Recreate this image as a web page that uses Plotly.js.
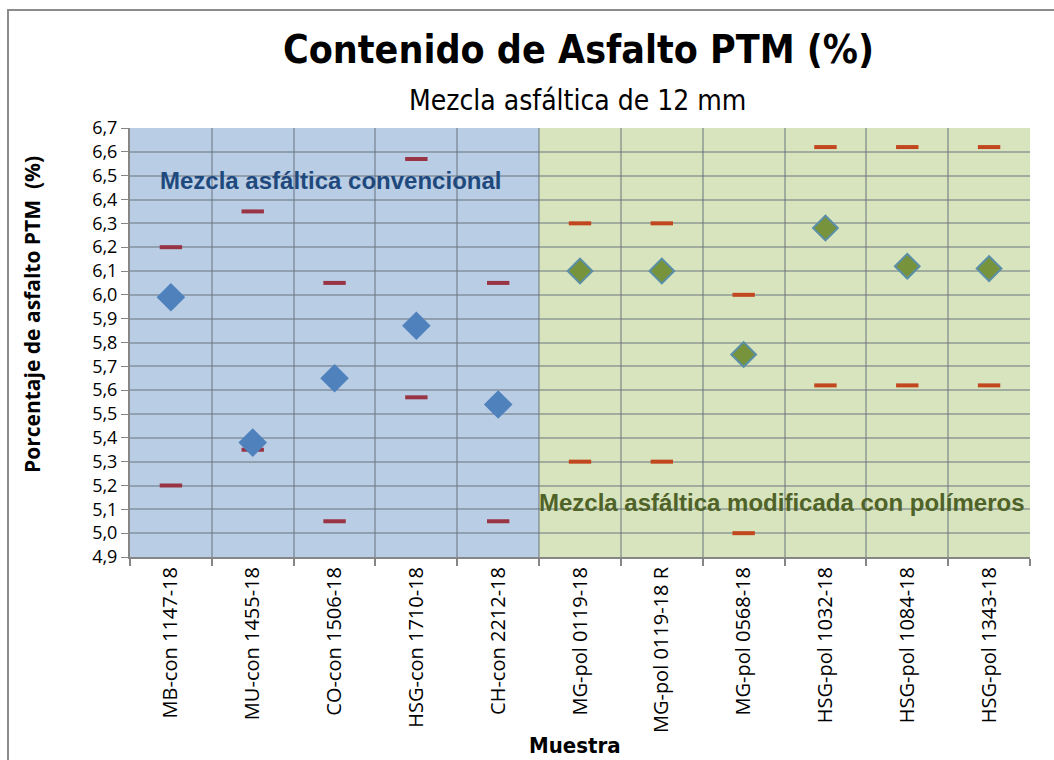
<!DOCTYPE html>
<html><head><meta charset="utf-8">
<script src="https://cdn.plot.ly/plotly-3.0.1.min.js"></script>
<style>body{margin:0;padding:0;background:#fff}#wrap{position:relative;width:1054px;height:760px;overflow:hidden}#frame{position:absolute;left:7px;top:9px;width:1100px;height:800px;border:2px solid #8c8c8c;pointer-events:none;box-sizing:border-box}</style>
</head><body><div id="wrap"><div id="chart" style="width:1054px;height:760px"></div><div id="frame"></div></div>
<script>
const categories = ["MB-con 1147-18","MU-con 1455-18","CO-con 1506-18","HSG-con 1710-18","CH-con 2212-18","MG-pol 0119-18","MG-pol 0119-18 R","MG-pol 0568-18","HSG-pol 1032-18","HSG-pol 1084-18","HSG-pol 1343-18"];
const contenido = [5.99,5.38,5.65,5.87,5.54,6.10,6.10,5.75,6.28,6.12,6.11];
const limiteSup = [6.20,6.35,6.05,6.57,6.05,6.30,6.30,6.00,6.62,6.62,6.62];
const limiteInf = [5.20,5.35,5.05,5.57,5.05,5.30,5.30,5.00,5.62,5.62,5.62];
const nConvencional = 5;

const conv = categories.slice(0,nConvencional), pol = categories.slice(nConvencional);
const sl = (a,f)=> f ? a.slice(0,nConvencional) : a.slice(nConvencional);
const dash = (c)=>({symbol:'line-ew',size:16,line:{width:4,color:c}});
const traces = [
  {x:conv,y:sl(limiteSup,true),type:'scatter',mode:'markers',marker:dash('#993445'),hoverinfo:'y'},
  {x:conv,y:sl(limiteInf,true),type:'scatter',mode:'markers',marker:dash('#993445'),hoverinfo:'y'},
  {x:pol,y:sl(limiteSup,false),type:'scatter',mode:'markers',marker:dash('#C2471E'),hoverinfo:'y'},
  {x:pol,y:sl(limiteInf,false),type:'scatter',mode:'markers',marker:dash('#C2471E'),hoverinfo:'y'},
  {x:conv,y:sl(contenido,true),type:'scatter',mode:'markers',marker:{symbol:'diamond',size:22,color:'#4F81BD',line:{width:0}}},
  {x:pol,y:sl(contenido,false),type:'scatter',mode:'markers',marker:{symbol:'diamond',size:19,color:'#77933C',line:{width:2,color:'#5B8FA8'}}}
];
const narrow = 'Liberation Sans Narrow, DejaVu Sans Condensed, Arial Narrow, sans-serif';
const layout = {
  width:1054,height:760,showlegend:false,
  margin:{l:130,r:24,t:128,b:203},
  paper_bgcolor:'rgba(0,0,0,0)',plot_bgcolor:'#ffffff',
  separators:',.',
  font:{family:'Open Sans, Arial, sans-serif',color:'#000'},
  xaxis:{type:'category',categoryorder:'array',categoryarray:categories,range:[-0.5,10.5],
    tickson:'boundaries',ticks:'outside',ticklen:7,tickcolor:'#868686',tickwidth:1.5,
    showgrid:true,gridcolor:'rgba(105,115,125,0.5)',gridwidth:2,
    showline:true,linecolor:'#868686',linewidth:2,tickangle:-90,
    tickfont:{family:'Open Sans, sans-serif',size:20,color:'#000'},
    zeroline:false},
  yaxis:{range:[4.9,6.7],dtick:0.1,tick0:4.9,tickformat:'.1f',ticks:'outside',ticklen:7,tickcolor:'#868686',
    showgrid:true,gridcolor:'rgba(105,115,125,0.5)',gridwidth:2,
    showline:true,linecolor:'#868686',linewidth:2,zeroline:false,
    tickfont:{family:'Open Sans, sans-serif',size:18,color:'#000'}},
  shapes:[
    {type:'rect',xref:'x',yref:'paper',x0:-0.5,x1:nConvencional-0.5,y0:0,y1:1,fillcolor:'#B9CDE5',line:{width:0},layer:'below'},
    {type:'rect',xref:'x',yref:'paper',x0:nConvencional-0.5,x1:10.5,y0:0,y1:1,fillcolor:'#D7E4BD',line:{width:0},layer:'below'}
  ],
  annotations:[
    {text:'<b>Contenido de Asfalto PTM (%)</b>',xref:'paper',yref:'paper',x:(578-130)/900,y:(557-50)/429,xanchor:'center',yanchor:'middle',showarrow:false,
      font:{family:narrow,size:39,color:'#000'}},
    {text:'Mezcla asfáltica de 12 mm',xref:'paper',yref:'paper',x:(577-130)/900,y:(557-100)/429,xanchor:'center',yanchor:'middle',showarrow:false,
      font:{family:narrow,size:28,color:'#000'}},
    {text:'<b>Muestra</b>',xref:'paper',yref:'paper',x:(575-130)/900,y:(557-745)/429,xanchor:'center',yanchor:'middle',showarrow:false,
      font:{family:narrow,size:22,color:'#000'}},
    {text:'<b>Porcentaje de asfalto PTM  (%)</b>',xref:'paper',yref:'paper',x:(32-130)/900,y:(557-315)/429,xanchor:'center',yanchor:'middle',textangle:-90,showarrow:false,
      font:{family:'Open Sans, Arial, sans-serif',size:21,color:'#000'}},
    {text:'<b>Mezcla asfáltica convencional</b>',xref:'paper',yref:'y',x:(330-130)/900,y:6.48,xanchor:'center',yanchor:'middle',showarrow:false,
      font:{family:'Arial, Liberation Sans, sans-serif',size:24,color:'#1F497D'}},
    {text:'<b>Mezcla asfáltica modificada con polímeros</b>',xref:'paper',yref:'y',x:(781-130)/900,y:5.13,xanchor:'center',yanchor:'middle',showarrow:false,
      font:{family:'Arial, Liberation Sans, sans-serif',size:24,color:'#4F6228'}}
  ]
};
Plotly.newPlot('chart',traces,layout,{displayModeBar:false});
</script></body></html>
